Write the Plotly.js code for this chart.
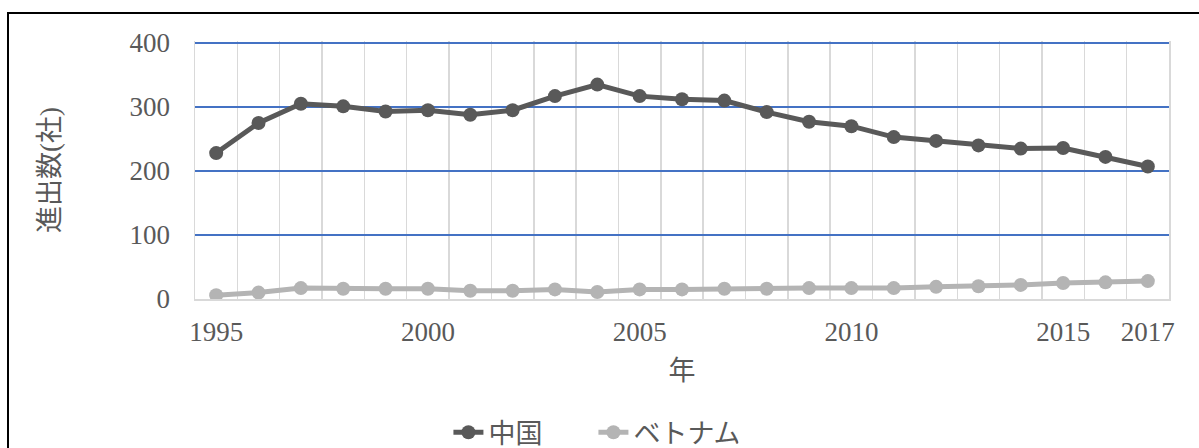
<!DOCTYPE html>
<html>
<head>
<meta charset="utf-8">
<script src="https://cdn.plot.ly/plotly-3.0.1.min.js"></script>
<style>
  html, body { margin: 0; padding: 0; background: #fff; }
  #wrap { position: relative; width: 1199px; height: 448px; overflow: hidden; }
  #chart { position: absolute; left: 0; top: 0; width: 1199px; height: 448px; }
  #frame { position: absolute; left: 7px; top: 12px; width: 1400px; height: 600px;
           border-left: 2px solid #000; border-top: 2px solid #000; pointer-events: none; }
</style>
</head>
<body>
<div id="wrap">
  <div id="chart"></div>
  <div id="frame"></div>
</div>
<script>
const years = [1995,1996,1997,1998,1999,2000,2001,2002,2003,2004,2005,2006,2007,2008,2009,2010,2011,2012,2013,2014,2015,2016,2017];
const china = [228,275,305,301,293,295,288,295,317,335,317,312,310,292,277,270,253,247,240,235,236,222,207];
const vietnam = [6,10,17,16,16,16,13,13,15,11,15,15,16,16,17,17,17,19,20,22,25,26,28];
const tickYears = [1995,2000,2005,2010,2015,2017];
const tickLabels = ['1995','2000','2005','2010','2015','2017'];
const yTicks = [0,100,200,300,400];
const seriesNames = ['中国','ベトナム'];
const yTitle = '進出数(社)';
const xTitle = '年';

const FONT = '"Liberation Serif", "Noto Sans CJK JP", serif';
const TXT = '#595959';

const traces = [
  { x: years, y: china, name: seriesNames[0], type: 'scatter', mode: 'lines+markers',
    line: { color: '#595959', width: 5 }, marker: { color: '#595959', size: 14 } },
  { x: years, y: vietnam, name: seriesNames[1], type: 'scatter', mode: 'lines+markers',
    line: { color: '#b4b4b4', width: 5 }, marker: { color: '#b4b4b4', size: 14 } }
];

const layout = {
  width: 1199, height: 448,
  margin: { l: 195, r: 30, t: 41, b: 149, autoexpand: false },
  paper_bgcolor: '#fff', plot_bgcolor: '#fff',
  font: { family: FONT, size: 27, color: TXT },
  showlegend: true,
  legend: { orientation: 'h', xref: 'container', yref: 'container',
            x: 0.374, xanchor: 'left', y: 0.034, yanchor: 'middle',
            entrywidth: 100, entrywidthmode: 'pixels',
            font: { family: FONT, size: 27, color: TXT }, bgcolor: 'rgba(0,0,0,0)' },
  xaxis: {
    type: 'linear', range: [1994.5, 2017.5], automargin: false,
    tickmode: 'array', tickvals: tickYears, ticktext: tickLabels,
    showgrid: false, zeroline: false,
    showline: true, linecolor: '#d9d9d9', linewidth: 1.5,
    ticks: 'outside', ticklen: 8, tickcolor: 'rgba(0,0,0,0)',
    tickfont: { family: FONT, size: 27, color: TXT },
    minor: { tickmode: 'linear', tick0: 1994.5, dtick: 1, showgrid: true,
             gridcolor: '#d9d9d9', gridwidth: 1.5, ticks: '' },
    title: { text: xTitle, font: { family: FONT, size: 27, color: TXT }, standoff: 15 },
    fixedrange: true
  },
  yaxis: {
    range: [0, 403.125], automargin: false, tickmode: 'array', tickvals: yTicks,
    showgrid: true, gridcolor: '#4472C4', gridwidth: 1.5, zeroline: false,
    showline: true, linecolor: '#d9d9d9', linewidth: 1.5, mirror: true,
    ticks: 'outside', ticklen: 18, tickcolor: 'rgba(0,0,0,0)',
    tickfont: { family: FONT, size: 27, color: TXT },
    title: { text: yTitle, font: { family: FONT, size: 27, color: TXT }, standoff: 62 },
    fixedrange: true
  }
};

Plotly.newPlot('chart', traces, layout, { displayModeBar: false, staticPlot: true });
</script>
</body>
</html>
